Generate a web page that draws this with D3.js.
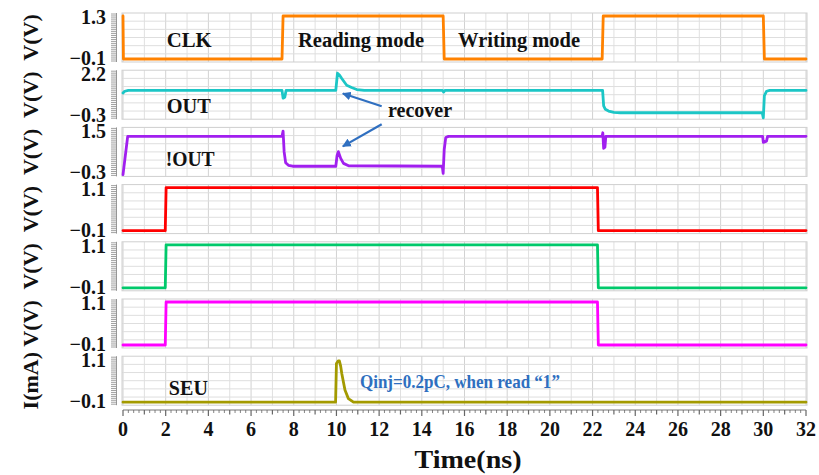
<!DOCTYPE html>
<html><head><meta charset="utf-8">
<script src="https://cdn.jsdelivr.net/npm/d3@7/dist/d3.min.js"></script>
<style>
html,body{margin:0;padding:0;background:#fff;}
svg{display:block;}
text{font-family:"Liberation Serif","Times New Roman",serif;font-weight:bold;}
</style></head>
<body><svg id="c" width="819" height="475"></svg>
<script>
// ---------- DATA ----------
const panelNames = ["CLK", "OUT", "!OUT", "N1", "N2", "N3", "SEU"];
const panelUnits = ["V(V)", "V(V)", "V(V)", "V(V)", "V(V)", "V(V)", "I(mA)"];
const panelMin = [-0.1, -0.3, -0.3, -0.1, -0.1, -0.1, -0.1];
const panelMax = [1.3, 2.2, 1.5, 1.1, 1.1, 1.1, 1.1];
const panelColors = ["#FF8200", "#1CC6C6", "#A11FEF", "#FF0000", "#00C96B", "#FF00FF", "#A39A00"];
const timeTicks = [0,2,4,6,8,10,12,14,16,18,20,22,24,26,28,30,32];

const clkT = [0, 0.02, 7.45, 7.5, 15.0, 15.05, 22.45, 22.5, 30.0, 30.05, 32];
const clkV = [1.3, -0.1, -0.1, 1.3, 1.3, -0.1, -0.1, 1.3, 1.3, -0.1, -0.1];

const outT = [0, 0.08, 0.25, 7.45, 7.5, 7.58, 7.64, 9.97, 10.05, 10.14, 10.25, 10.48, 10.71, 10.95, 11.3, 14.97, 15.02, 15.08, 22.47, 22.52, 22.6, 22.75, 23.0, 23.3, 29.95, 30.0, 30.05, 30.15, 30.3, 32];
const outV = [1.05, 1.15, 1.2, 1.2, 0.75, 0.8, 1.2, 1.2, 2.2, 2.1, 1.89, 1.5, 1.37, 1.25, 1.2, 1.2, 1.1, 1.2, 1.2, 0.3, 0.1, 0.0, -0.08, -0.1, -0.1, -0.4, 0.9, 1.15, 1.2, 1.2];

const noutT = [0, 0.22, 7.45, 7.5, 7.55, 7.62, 7.75, 7.95, 9.97, 10.03, 10.09, 10.2, 10.33, 10.57, 14.96, 15.0, 15.05, 15.12, 15.25, 22.45, 22.48, 22.52, 22.58, 22.62, 29.97, 30.0, 30.15, 30.2, 32];
const noutV = [-0.35, 1.25, 1.25, 1.47, 0.6, 0.15, 0.04, 0.0, 0.0, 0.45, 0.61, 0.33, 0.12, 0.02, 0.0, -0.3, 0.7, 1.2, 1.25, 1.25, 1.4, 0.75, 0.8, 1.25, 1.25, 1.0, 1.05, 1.25, 1.25];

const n1T = [0, 1.98, 2.02, 22.23, 22.27, 32];
const n1V = [-0.1, -0.1, 1.1, 1.1, -0.1, -0.1];
const n2T = [0, 1.98, 2.02, 22.23, 22.27, 32];
const n2V = [-0.1, -0.1, 1.1, 1.1, -0.1, -0.1];
const n3T = [0, 1.98, 2.02, 22.23, 22.27, 32];
const n3V = [-0.1, -0.1, 1.1, 1.1, -0.1, -0.1];

const seuT = [0, 9.96, 10.0, 10.08, 10.14, 10.2, 10.25, 10.4, 10.56, 10.8, 32];
const seuV = [-0.1, -0.1, 0.98, 1.05, 1.05, 0.9, 0.7, 0.24, 0.0, -0.1, -0.1];

const seriesT = [clkT, outT, noutT, n1T, n2T, n3T, seuT];
const seriesV = [clkV, outV, noutV, n1V, n2V, n3V, seuV];

// ---------- LAYOUT ----------
const svg = d3.select("#c");
const X0 = 123, X1 = 806;
const x = d3.scaleLinear().domain([0, 32]).range([X0, X1]);
const pTop0 = 13, pPitch = 57.2, pH = 49, pad = 3;
const ys = panelNames.map((n, i) => {
  const top = pTop0 + i * pPitch;
  return d3.scaleLinear().domain([panelMin[i], panelMax[i]]).range([top + pH - pad, top + pad]);
});

panelNames.forEach((n, i) => {
  const top = pTop0 + i * pPitch;
  const g = svg.append("g");
  // grid
  d3.range(0, 33, 1).forEach(t => {
    g.append("line").attr("x1", x(t)).attr("x2", x(t)).attr("y1", top).attr("y2", top + pH)
      .attr("stroke", t % 2 === 0 ? "#d2d2d2" : "#e0e0e0").attr("stroke-width", 1);
  });
  d3.range(1, 6).forEach(k => {
    const yy = top + k * pH / 6;
    g.append("line").attr("x1", X0 - 1).attr("x2", X1 + 1).attr("y1", yy).attr("y2", yy)
      .attr("stroke", "#dedede").attr("stroke-width", 1);
  });
  g.append("rect").attr("x", X0 - 1).attr("y", top).attr("width", X1 - X0 + 2).attr("height", pH)
    .attr("fill", "none").attr("stroke", "#cfcfcf").attr("stroke-width", 1);
  // left ladder axis
  g.append("line").attr("x1", 116.5).attr("x2", 116.5).attr("y1", top).attr("y2", top + pH)
    .attr("stroke", "#9a9a9a").attr("stroke-width", 1);
  d3.range(25).forEach(k => {
    const yy = top + 1 + k * (pH - 2) / 24;
    g.append("line").attr("x1", 111).attr("x2", 116.5).attr("y1", yy).attr("y2", yy)
      .attr("stroke", "#8a8a8a").attr("stroke-width", 0.8);
  });
  // tick labels top/bottom
  const y = ys[i];
  [panelMax[i], panelMin[i]].forEach((v, j) => {
    g.append("text").attr("x", 106).attr("y", y(v) + (j === 0 ? 1 : -1)).attr("dy", "0.35em")
      .attr("text-anchor", "end").attr("font-size", 20).attr("fill", "#111")
      .text(v < 0 ? "\u2212" + d3.format(".1f")(-v) : d3.format(".1f")(v));
  });
  // unit label (rotated)
  const cy = top + pH / 2;
  svg.append("text").attr("transform", `translate(38,${cy}) rotate(-90)`)
    .attr("text-anchor", "middle").attr("font-size", 22).attr("fill", "#111")
    .text(panelUnits[i]);
  // line
  const pts = seriesT[i].map((t, k) => [t, seriesV[i][k]]);
  svg.append("path").datum(pts)
    .attr("d", d3.line().x(d => x(d[0])).y(d => y(d[1])))
    .attr("fill", "none").attr("stroke", panelColors[i]).attr("stroke-width", 2.8)
    .attr("stroke-linejoin", "round").attr("stroke-linecap", "round");
});

// ---------- X AXIS ----------
const axY = 410;
const ax = svg.append("g");
ax.append("line").attr("x1", X0).attr("x2", X1).attr("y1", axY).attr("y2", axY).attr("stroke", "#777").attr("stroke-width", 1);
d3.range(0, 32.001, 0.25).forEach(t => {
  const r = Math.round(t * 100) / 100;
  const len = (r % 2 === 0) ? 6 : (r % 1 === 0 ? 4.5 : 3);
  ax.append("line").attr("x1", x(r)).attr("x2", x(r)).attr("y1", axY).attr("y2", axY + len)
    .attr("stroke", "#666").attr("stroke-width", r % 1 === 0 ? 1.2 : 0.8);
});
timeTicks.forEach(t => {
  ax.append("text").attr("x", x(t)).attr("y", 436).attr("text-anchor", "middle")
    .attr("font-size", 20).attr("fill", "#111").text(t);
});
svg.append("text").attr("x", 468).attr("y", 468).attr("text-anchor", "middle")
  .attr("font-size", 25).attr("fill", "#111").attr("textLength", 107).attr("lengthAdjust", "spacingAndGlyphs")
  .text("Time(ns)");

// ---------- ANNOTATIONS ----------
function label(t, y, s, size, color, len) {
  const el = svg.append("text").attr("x", x(t)).attr("y", y).attr("font-size", size).attr("fill", color || "#111").text(s);
  if (len) el.attr("textLength", len).attr("lengthAdjust", "spacingAndGlyphs");
  return el;
}
label(2.05, 47, "CLK", 20, "#111", 45);
label(8.2, 47, "Reading mode", 20, "#111", 126);
label(15.7, 47, "Writing mode", 20, "#111", 122);
label(2.05, 113, "OUT", 20, "#111", 44);
label(2.0, 166, "!OUT", 20, "#111", 49);
label(12.42, 117, "recover", 20, "#111", 64);
label(2.15, 395, "SEU", 20, "#111", 39);
label(11.1, 388, "Qinj=0.2pC, when read \u201C1\u201D", 19, "#2E6FBF", 200);

const blue = "#2F6FC0";
const defs = svg.append("defs");
defs.append("marker").attr("id", "ah").attr("viewBox", "0 0 10 10").attr("refX", 9).attr("refY", 5)
  .attr("markerWidth", 4).attr("markerHeight", 4).attr("orient", "auto")
  .append("path").attr("d", "M0,0 L10,5 L0,10 z").attr("fill", blue);
const arrows = [
  { t0: 12.12, v0: 0.28, p0: 1, t1: 10.3, v1: 1.02, p1: 1 },
  { t0: 12.12, v0: 1.76, p0: 2, t1: 10.3, v1: 0.83, p1: 2 }
];
arrows.forEach(a => {
  svg.append("line").attr("x1", x(a.t0)).attr("y1", ys[a.p0](a.v0))
    .attr("x2", x(a.t1)).attr("y2", ys[a.p1](a.v1))
    .attr("stroke", blue).attr("stroke-width", 2.2).attr("marker-end", "url(#ah)");
});
</script></body></html>
